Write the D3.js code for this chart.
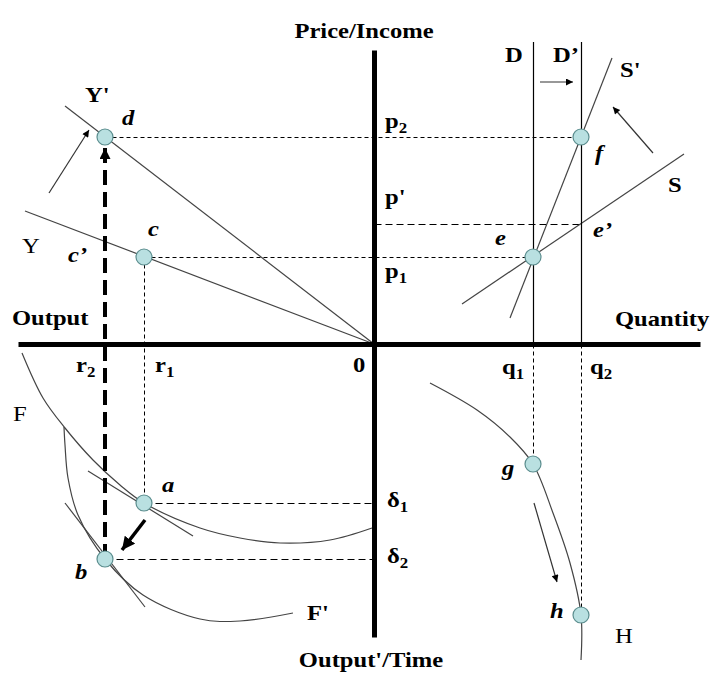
<!DOCTYPE html>
<html>
<head>
<meta charset="utf-8">
<script src="https://cdn.jsdelivr.net/npm/d3@7"></script>
<style>
body { margin: 0; background: #fff; }
text { font-family: "Liberation Serif", "Times New Roman", serif; }
</style>
</head>
<body>
<div id="chart"></div>
<script>
// data units: origin at the crossing of the axes, x grows to the right, y grows upward
var curveF = [[-35.2, -0.9], [-33.1, -5.4], [-30.9, -8.4], [-28.1, -11.6], [-25.4, -14.1], [-23.0, -15.9],
    [-17.4, -18.4], [-13.4, -19.4], [-9.4, -19.9], [-4.4, -19.6], [-0.2, -18.4]];
var curveF2 = [[-31.0, -8.3], [-30.9, -10.1], [-30.6, -13.4], [-29.6, -17.1], [-26.9, -21.5], [-23.1, -25.1],
    [-17.4, -27.5], [-13.4, -27.7], [-8.1, -26.9]];
var curveH = [[5.6, -3.9], [10.3, -6.6], [13.6, -9.3], [15.9, -12.0], [17.9, -16.9], [19.6, -21.9], [20.7, -27.1], [20.7, -31.6]];

var lineY = [[-34.9, 13.3], [0, 0]];
var lineY2 = [[-30.9, 23.8], [0, 0]];
var lineS = [[8.8, 4.0], [31.0, 19.0]];
var lineS2 = [[13.6, 2.6], [23.8, 28.6]];
var lineD = [[15.9, 30.2], [15.9, 0]];
var lineD2 = [[20.7, 30.2], [20.7, 0]];
var tangentA = [[-28.6, -12.7], [-18.1, -19.2]];
var tangentB = [[-30.9, -15.9], [-22.9, -26.3]];

var pointNames = ["a", "b", "c", "d", "e", "f", "g", "h"];
var pointX = [-23.0, -26.9, -23.0, -26.9, 15.9, 20.7, 15.9, 20.7];
var pointY = [-15.9, -21.5, 8.7, 20.7, 8.7, 20.7, -12.0, -27.1];

// guide lines: [x1, y1, x2, y2]
var guidesShort = [[-26.9, 20.7, 20.7, 20.7], [-23.0, 8.7, 15.9, 8.7], [-23.0, 8.7, -23.0, -15.9],
    [15.9, 0, 15.9, -12.0], [20.7, 0, 20.7, -27.1]];
var guidesLong = [[0, 12.0, 20.7, 12.0], [-23.0, -15.9, 0, -15.9], [-26.9, -21.5, 0, -21.5]];

// shift arrows: [x1, y1, x2, y2]
var thinArrows = [[-32.5, 15.1, -28.5, 21.4], [16.6, 26.2, 19.9, 26.2], [27.9, 19.1, 23.9, 23.7], [16.0, -15.9, 18.3, -23.8]];
var thickArrow = [-22.9, -17.6, -25.2, -20.6];
var dashedArrow = [-26.9, -21.5, -26.9, 19.6];

var labelText = ["Y'", "d", "c", "Y", "c\u2019", "p|2", "p'", "p|1", "D", "D\u2019", "S'", "S", "f", "e", "e\u2019",
    "r|2", "r|1", "0", "F", "a", "b", "F'", "\u03b4|1", "\u03b4|2", "q|1", "q|2", "g", "h", "H"];
var labelX = [-28.9, -25.2, -22.6, -35.2, -30.6, 1.1, 1.1, 1.1, 13.1, 17.9, 24.6, 29.4, 22.1, 12.1, 21.9,
    -29.8, -21.9, -2.1, -36.1, -21.2, -29.9, -6.7, 1.3, 1.3, 12.8, 21.6, 12.8, 17.6, 24.1];
var labelY = [24.2, 21.9, 10.8, 9.1, 8.2, 21.6, 14.0, 6.6, 28.2, 28.2, 26.7, 15.2, 18.4, 9.9, 10.7,
    -2.8, -2.8, -2.8, -7.7, -14.8, -23.5, -27.6, -16.3, -21.9, -3.0, -3.0, -13.1, -27.4, -29.9];
var italicLabels = ["d", "c", "c\u2019", "f", "e", "e\u2019", "a", "b", "g", "h"];
var plainLabels = ["Y", "F", "H"];

var titles = ["Price/Income", "Output", "Quantity", "Output'/Time"];
var titleX = [-1.0, -36.2, 24.1, -0.3];
var titleY = [30.6, 1.9, 1.8, -32.3];
var titleAnchor = ["middle", "start", "start", "middle"];

var width = 713, height = 673;

var x = d3.scaleLinear().domain([-35.6, 32.6]).range([18, 700]);
var y = d3.scaleLinear().domain([-29.3, 29.4]).range([637, 50]);

// snap thin 1px lines onto the pixel grid
function px(v) { return Math.round(v) + 0.5; }

var svg = d3.select('#chart').append('svg')
    .attr('width', width)
    .attr('height', height);

var defs = svg.append('defs');
function marker(id, len, wid) {
    defs.append('marker')
        .attr('id', id)
        .attr('markerUnits', 'userSpaceOnUse')
        .attr('viewBox', '0 0 10 10')
        .attr('refX', 10).attr('refY', 5)
        .attr('markerWidth', len).attr('markerHeight', wid)
        .attr('orient', 'auto')
        .append('path').attr('d', 'M0,0L10,5L0,10Z').attr('fill', '#000');
}
marker('thin', 9, 7);
marker('thick', 13, 13);
marker('dash', 15, 11);

var line = d3.line().x(function (d) { return x(d[0]); }).y(function (d) { return y(d[1]); });
var smooth = d3.line().curve(d3.curveCatmullRom.alpha(0.5))
    .x(function (d) { return x(d[0]); }).y(function (d) { return y(d[1]); });

// guides
svg.selectAll('.guide-s').data(guidesShort).enter().append('line')
    .attr('x1', function (d) { return px(x(d[0])); }).attr('y1', function (d) { return px(y(d[1])); })
    .attr('x2', function (d) { return px(x(d[2])); }).attr('y2', function (d) { return px(y(d[3])); })
    .attr('stroke', '#000').attr('stroke-width', 1).attr('stroke-dasharray', '4,3');
svg.selectAll('.guide-l').data(guidesLong).enter().append('line')
    .attr('x1', function (d) { return px(x(d[0])); }).attr('y1', function (d) { return px(y(d[1])); })
    .attr('x2', function (d) { return px(x(d[2])); }).attr('y2', function (d) { return px(y(d[3])); })
    .attr('stroke', '#000').attr('stroke-width', 1).attr('stroke-dasharray', '7,4');

// straight schedules
[lineY, lineY2, lineS, lineS2, tangentA, tangentB].forEach(function (l) {
    svg.append('path').attr('d', line(l)).attr('fill', 'none')
        .attr('stroke', '#444').attr('stroke-width', 1.2);
});
[lineD, lineD2].forEach(function (l) {
    svg.append('line')
        .attr('x1', px(x(l[0][0]))).attr('y1', y(l[0][1]))
        .attr('x2', px(x(l[1][0]))).attr('y2', y(l[1][1]))
        .attr('stroke', '#000').attr('stroke-width', 1.2);
});

// curves
[curveF, curveF2, curveH].forEach(function (c) {
    svg.append('path').attr('d', smooth(c)).attr('fill', 'none')
        .attr('stroke', '#444').attr('stroke-width', 1.2);
});

// axes, no ticks
svg.append('g').attr('transform', 'translate(0,' + y(0) + ')')
    .call(d3.axisBottom(x).tickValues([]).tickSizeOuter(0));
svg.append('g').attr('transform', 'translate(' + x(0) + ',0)')
    .call(d3.axisLeft(y).tickValues([]).tickSizeOuter(0));
svg.selectAll('.domain').attr('stroke', '#000').attr('stroke-width', 5);

// thick dashed r2 line up to d
svg.append('line')
    .attr('x1', x(dashedArrow[0])).attr('y1', y(dashedArrow[1]))
    .attr('x2', x(dashedArrow[2])).attr('y2', y(dashedArrow[3]))
    .attr('stroke', '#000').attr('stroke-width', 4).attr('stroke-dasharray', '15,7')
    .attr('marker-end', 'url(#dash)');

svg.selectAll('.arrow').data(thinArrows).enter().append('line')
    .attr('x1', function (d) { return x(d[0]); }).attr('y1', function (d) { return y(d[1]); })
    .attr('x2', function (d) { return x(d[2]); }).attr('y2', function (d) { return y(d[3]); })
    .attr('stroke', '#333').attr('stroke-width', 1.2)
    .attr('marker-end', 'url(#thin)');

svg.append('line')
    .attr('x1', x(thickArrow[0])).attr('y1', y(thickArrow[1]))
    .attr('x2', x(thickArrow[2])).attr('y2', y(thickArrow[3]))
    .attr('stroke', '#000').attr('stroke-width', 3.5)
    .attr('marker-end', 'url(#thick)');

// points
svg.selectAll('.pt').data(pointNames).enter().append('circle')
    .attr('cx', function (d, i) { return x(pointX[i]); })
    .attr('cy', function (d, i) { return y(pointY[i]); })
    .attr('r', 8)
    .attr('fill', '#b9e0e1')
    .attr('stroke', '#5b8d8e')
    .attr('stroke-width', 1.2);

function stretch(sel, k) {
    sel.each(function () {
        var n = this.getComputedTextLength();
        d3.select(this).attr('textLength', n * k).attr('lengthAdjust', 'spacingAndGlyphs');
    });
}

// labels
var lab = svg.selectAll('.lab').data(labelText).enter().append('text')
    .attr('x', function (d, i) { return x(labelX[i]); })
    .attr('y', function (d, i) { return y(labelY[i]); })
    .style('font-size', '22px')
    .style('font-weight', function (d) { return plainLabels.indexOf(d) >= 0 ? '400' : '700'; })
    .style('font-style', function (d) { return italicLabels.indexOf(d) >= 0 ? 'italic' : 'normal'; });
lab.each(function (d) {
    var parts = d.split('|');
    var t = d3.select(this);
    t.append('tspan').text(parts[0]);
    if (parts.length > 1) {
        t.append('tspan').attr('dy', 5).style('font-size', '15px').text(parts[1]);
    }
});
stretch(lab, 1.12);

var tit = svg.selectAll('.title').data(titles).enter().append('text')
    .attr('x', function (d, i) { return x(titleX[i]); })
    .attr('y', function (d, i) { return y(titleY[i]); })
    .attr('text-anchor', function (d, i) { return titleAnchor[i]; })
    .style('font-size', '21px')
    .style('font-weight', '700')
    .text(function (d) { return d; });
stretch(tit, 1.17);
</script>
</body>
</html>
